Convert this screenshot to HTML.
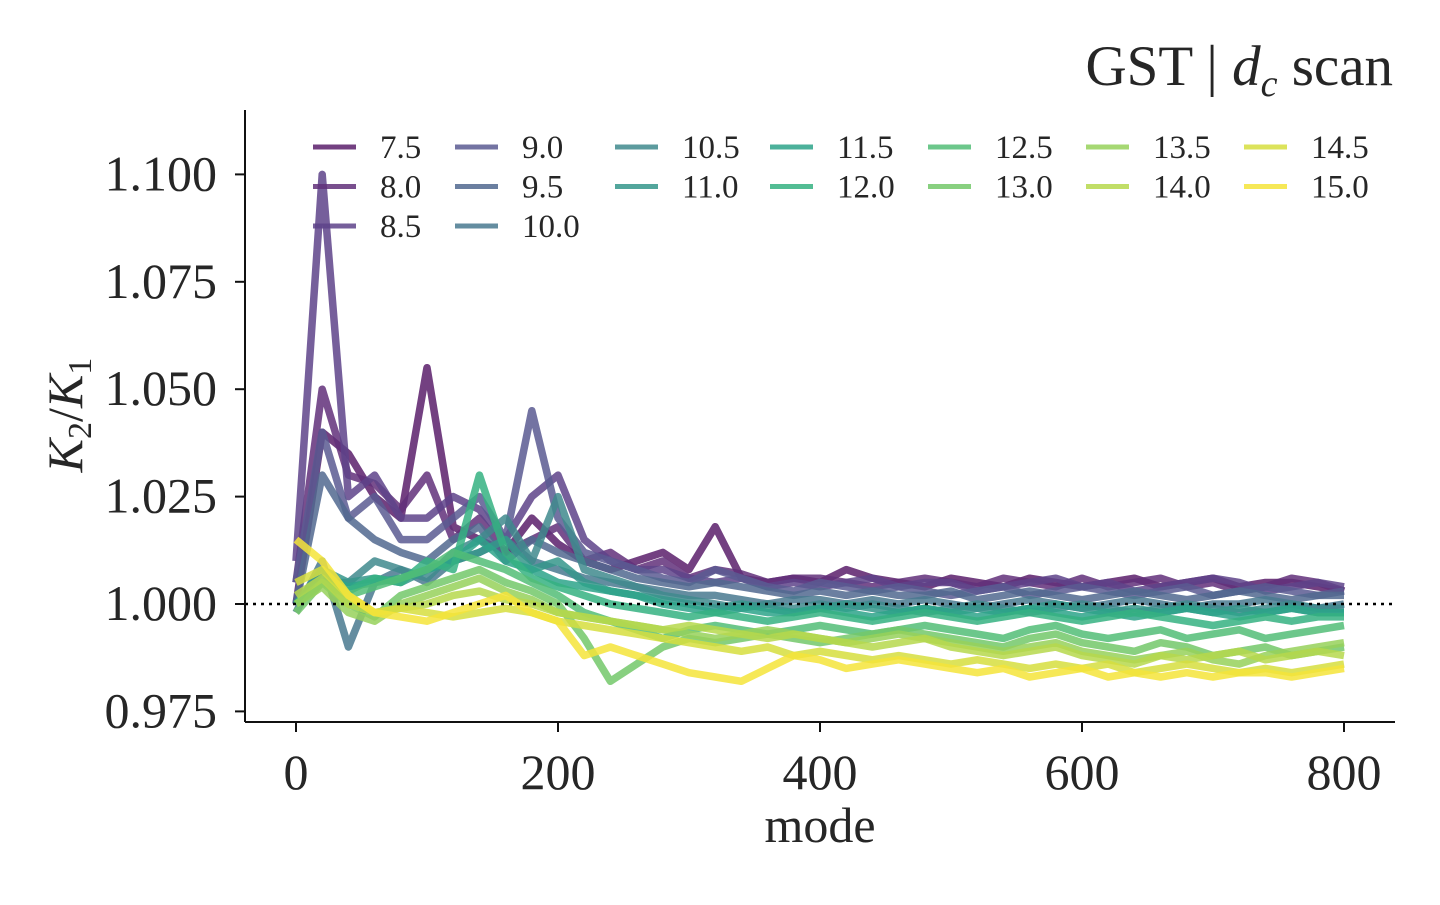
<!DOCTYPE html>
<html><head><meta charset="utf-8"><style>
body{margin:0;background:#fff;}
svg text{font-family:"Liberation Serif",serif;fill:#262626;}
</style></head><body>
<svg id="chart" width="1440" height="900" xmlns="http://www.w3.org/2000/svg">
<text x="1393" y="85" text-anchor="end" font-size="57">GST | <tspan font-style="italic">d</tspan><tspan font-style="italic" font-size="38" dy="11">c</tspan><tspan dy="-11"> scan</tspan></text>
<text transform="translate(82,415) rotate(-90)" text-anchor="middle" font-size="50" font-style="italic">K<tspan font-size="34" dy="9" font-style="normal">2</tspan><tspan dy="-9" font-style="normal">/</tspan>K<tspan font-size="34" dy="9" font-style="normal">1</tspan></text>
<text x="820" y="842" text-anchor="middle" font-size="50">mode</text>
<g id="plot"></g>
<g id="axes"></g>
<g id="legend"></g>
</svg>
<script>
const modes = Array.from({length:41},(_,i)=>i*20);
const seriesLabels = ["7.5","8.0","8.5","9.0","9.5","10.0","10.5","11.0","11.5","12.0","12.5","13.0","13.5","14.0","14.5","15.0"];
const seriesColors = ["#5b1f6b","#61307a","#5e4389","#5b5a92","#51698f","#49798f","#3f8a8d","#35968b","#2da389","#35b181","#52bd77","#73c86a","#97d15b","#b6d84c","#d6de3e","#f4e43a"];
// values expressed as (K2/K1 - 1) * 1000, sampled every 20 modes
const s75=[0,40,35,25,20,55,18,15,12,20,14,10,8,10,12,8,18,6,5,6,5,8,6,5,4,6,5,4,6,5,4,5,6,4,5,6,4,5,5,4,3];
const s80=[5,50,30,28,22,30,15,20,12,15,18,10,12,8,10,6,8,7,5,6,6,5,4,5,6,5,4,6,5,4,6,4,5,6,4,5,3,4,6,5,3];
const s85=[10,100,25,30,20,20,25,22,15,25,30,15,10,8,8,6,5,6,4,5,4,5,6,4,5,5,3,4,5,6,4,5,3,4,5,6,5,3,4,5,4];
const s90=[5,40,20,25,15,15,20,25,15,45,20,12,10,8,6,5,8,6,4,3,5,4,3,4,3,2,3,4,2,3,4,3,2,3,4,2,3,4,3,2,3];
const s95=[0,30,20,15,12,10,15,18,10,15,12,10,8,6,5,4,5,4,3,2,3,2,3,2,2,3,1,2,3,2,1,2,3,2,1,2,3,2,1,2,2];
const s100=[-2,10,-10,5,8,5,10,12,15,10,8,6,5,4,3,2,2,1,0,1,1,0,1,0,1,0,-1,0,1,0,-1,0,1,0,-1,0,0,1,0,-1,0];
const s105=[0,5,5,10,8,6,12,15,20,10,25,8,6,4,2,1,0,-1,0,-1,0,-1,0,-1,-2,-1,0,-1,-2,-1,0,-1,-2,-1,0,-1,-2,-1,0,-1,-1];
const s110=[0,8,5,6,5,8,10,12,15,8,10,5,3,2,1,0,-1,0,-1,-2,-1,0,-1,-2,-1,-2,-1,-2,-1,0,-1,-2,-1,-2,-1,-2,-1,-2,-1,-2,-2];
const s115=[0,6,4,5,6,8,10,15,10,8,5,4,3,2,0,-1,-2,-1,-2,-2,-1,-2,-3,-2,-1,-2,-3,-2,-1,-2,-3,-2,-3,-2,-1,-2,-3,-2,-1,-2,-2];
const s120=[0,5,3,6,5,10,8,30,12,6,4,2,0,-1,-2,-3,-2,-3,-4,-3,-2,-3,-4,-3,-2,-3,-4,-3,-2,-3,-4,-3,-2,-3,-4,-5,-4,-3,-4,-3,-3];
const s125=[0,5,2,4,6,8,12,10,8,5,2,-2,-4,-6,-8,-6,-5,-6,-7,-6,-5,-6,-7,-6,-5,-6,-7,-8,-6,-5,-7,-8,-7,-6,-8,-7,-6,-8,-7,-6,-5];
const s130=[-2,5,0,-3,2,4,6,8,5,3,0,-8,-18,-14,-10,-8,-9,-8,-7,-8,-9,-8,-7,-6,-7,-8,-9,-10,-8,-7,-9,-10,-11,-9,-10,-12,-11,-10,-12,-11,-10];
const s135=[0,4,-2,-4,0,2,4,6,3,1,-2,-3,-4,-5,-6,-7,-8,-7,-6,-7,-8,-9,-8,-7,-8,-9,-10,-11,-10,-9,-11,-12,-13,-12,-11,-13,-14,-12,-11,-10,-9];
const s140=[2,6,0,-2,-1,0,2,3,1,0,-2,-3,-4,-5,-6,-5,-6,-7,-8,-7,-8,-9,-10,-9,-8,-10,-11,-12,-11,-10,-12,-13,-14,-12,-13,-12,-11,-13,-12,-11,-12];
const s145=[5,8,2,-2,-1,-2,-3,-2,-1,-2,-4,-5,-6,-7,-8,-9,-10,-11,-10,-12,-11,-12,-13,-12,-13,-14,-13,-14,-15,-14,-15,-14,-16,-15,-14,-15,-16,-15,-16,-15,-14];
const s150=[15,10,2,-2,-3,-4,-2,0,2,-2,-4,-12,-10,-12,-14,-16,-17,-18,-15,-12,-13,-15,-14,-13,-14,-15,-16,-15,-17,-16,-15,-17,-16,-17,-16,-17,-16,-16,-17,-16,-15];
const seriesValues=[s75,s80,s85,s90,s95,s100,s105,s110,s115,s120,s125,s130,s135,s140,s145,s150];
const xTicks=[0,200,400,600,800];
const yTicks=[0.975,1.000,1.025,1.050,1.075,1.100];
const yTickLabels=["0.975","1.000","1.025","1.050","1.075","1.100"];

const NS="http://www.w3.org/2000/svg";
const xScale=m=>296+(m/800)*1048;
const yScale=v=>604-(v-1)*4296;
function mk(tag,attrs,parent){const e=document.createElementNS(NS,tag);for(const k in attrs)e.setAttribute(k,attrs[k]);parent.appendChild(e);return e;}
const plot=document.getElementById('plot'),axes=document.getElementById('axes'),legend=document.getElementById('legend');

seriesValues.forEach((vals,i)=>{
  const pts=vals.map((v,j)=>xScale(modes[j]).toFixed(1)+','+yScale(1+v/1000).toFixed(1)).join(' ');
  const pl=mk('polyline',{points:pts,fill:'none',stroke:seriesColors[i],'stroke-width':7.5,'stroke-opacity':0.85,'stroke-linejoin':'round'},plot);
  
  
});
const ref=mk('line',{x1:245,x2:1395,y1:yScale(1),y2:yScale(1),stroke:'#000','stroke-width':2.5,'stroke-dasharray':'3,5'},plot);



const ys=mk('line',{x1:245,x2:245,y1:110,y2:722,stroke:'#111','stroke-width':2},axes);


const xs=mk('line',{x1:245,x2:1395,y1:722,y2:722,stroke:'#111','stroke-width':2},axes);


xTicks.forEach(t=>{
  const x=xScale(t);
  mk('line',{x1:x,x2:x,y1:722,y2:732,stroke:'#111','stroke-width':2},axes);
  const tx=mk('text',{x:x,y:789,'text-anchor':'middle','font-size':50},axes);
  tx.textContent=t;
  
  
});
yTicks.forEach((t,i)=>{
  const y=yScale(t);
  mk('line',{x1:235,x2:245,y1:y,y2:y,stroke:'#111','stroke-width':2},axes);
  const tx=mk('text',{x:217,y:y+16,'text-anchor':'end','font-size':50},axes);
  tx.textContent=yTickLabels[i];
  
  
});

const colX=[313,455,615,770,928,1086,1244];
const colStart=[0,3,6,8,10,12,14];
seriesLabels.forEach((lab,i)=>{
  let c=0;for(let k=0;k<colStart.length;k++)if(i>=colStart[k])c=k;
  const r=i-colStart[c];
  const x=colX[c],y=147+r*39.5;
  const g=mk('g',{},legend);
  
  
  mk('line',{x1:x,x2:x+43,y1:y,y2:y,stroke:seriesColors[i],'stroke-width':5,'stroke-opacity':0.85},g);
  const t=mk('text',{x:x+67,y:y+11,'font-size':33},g);
  t.textContent=lab;
});
</script>
</body></html>
